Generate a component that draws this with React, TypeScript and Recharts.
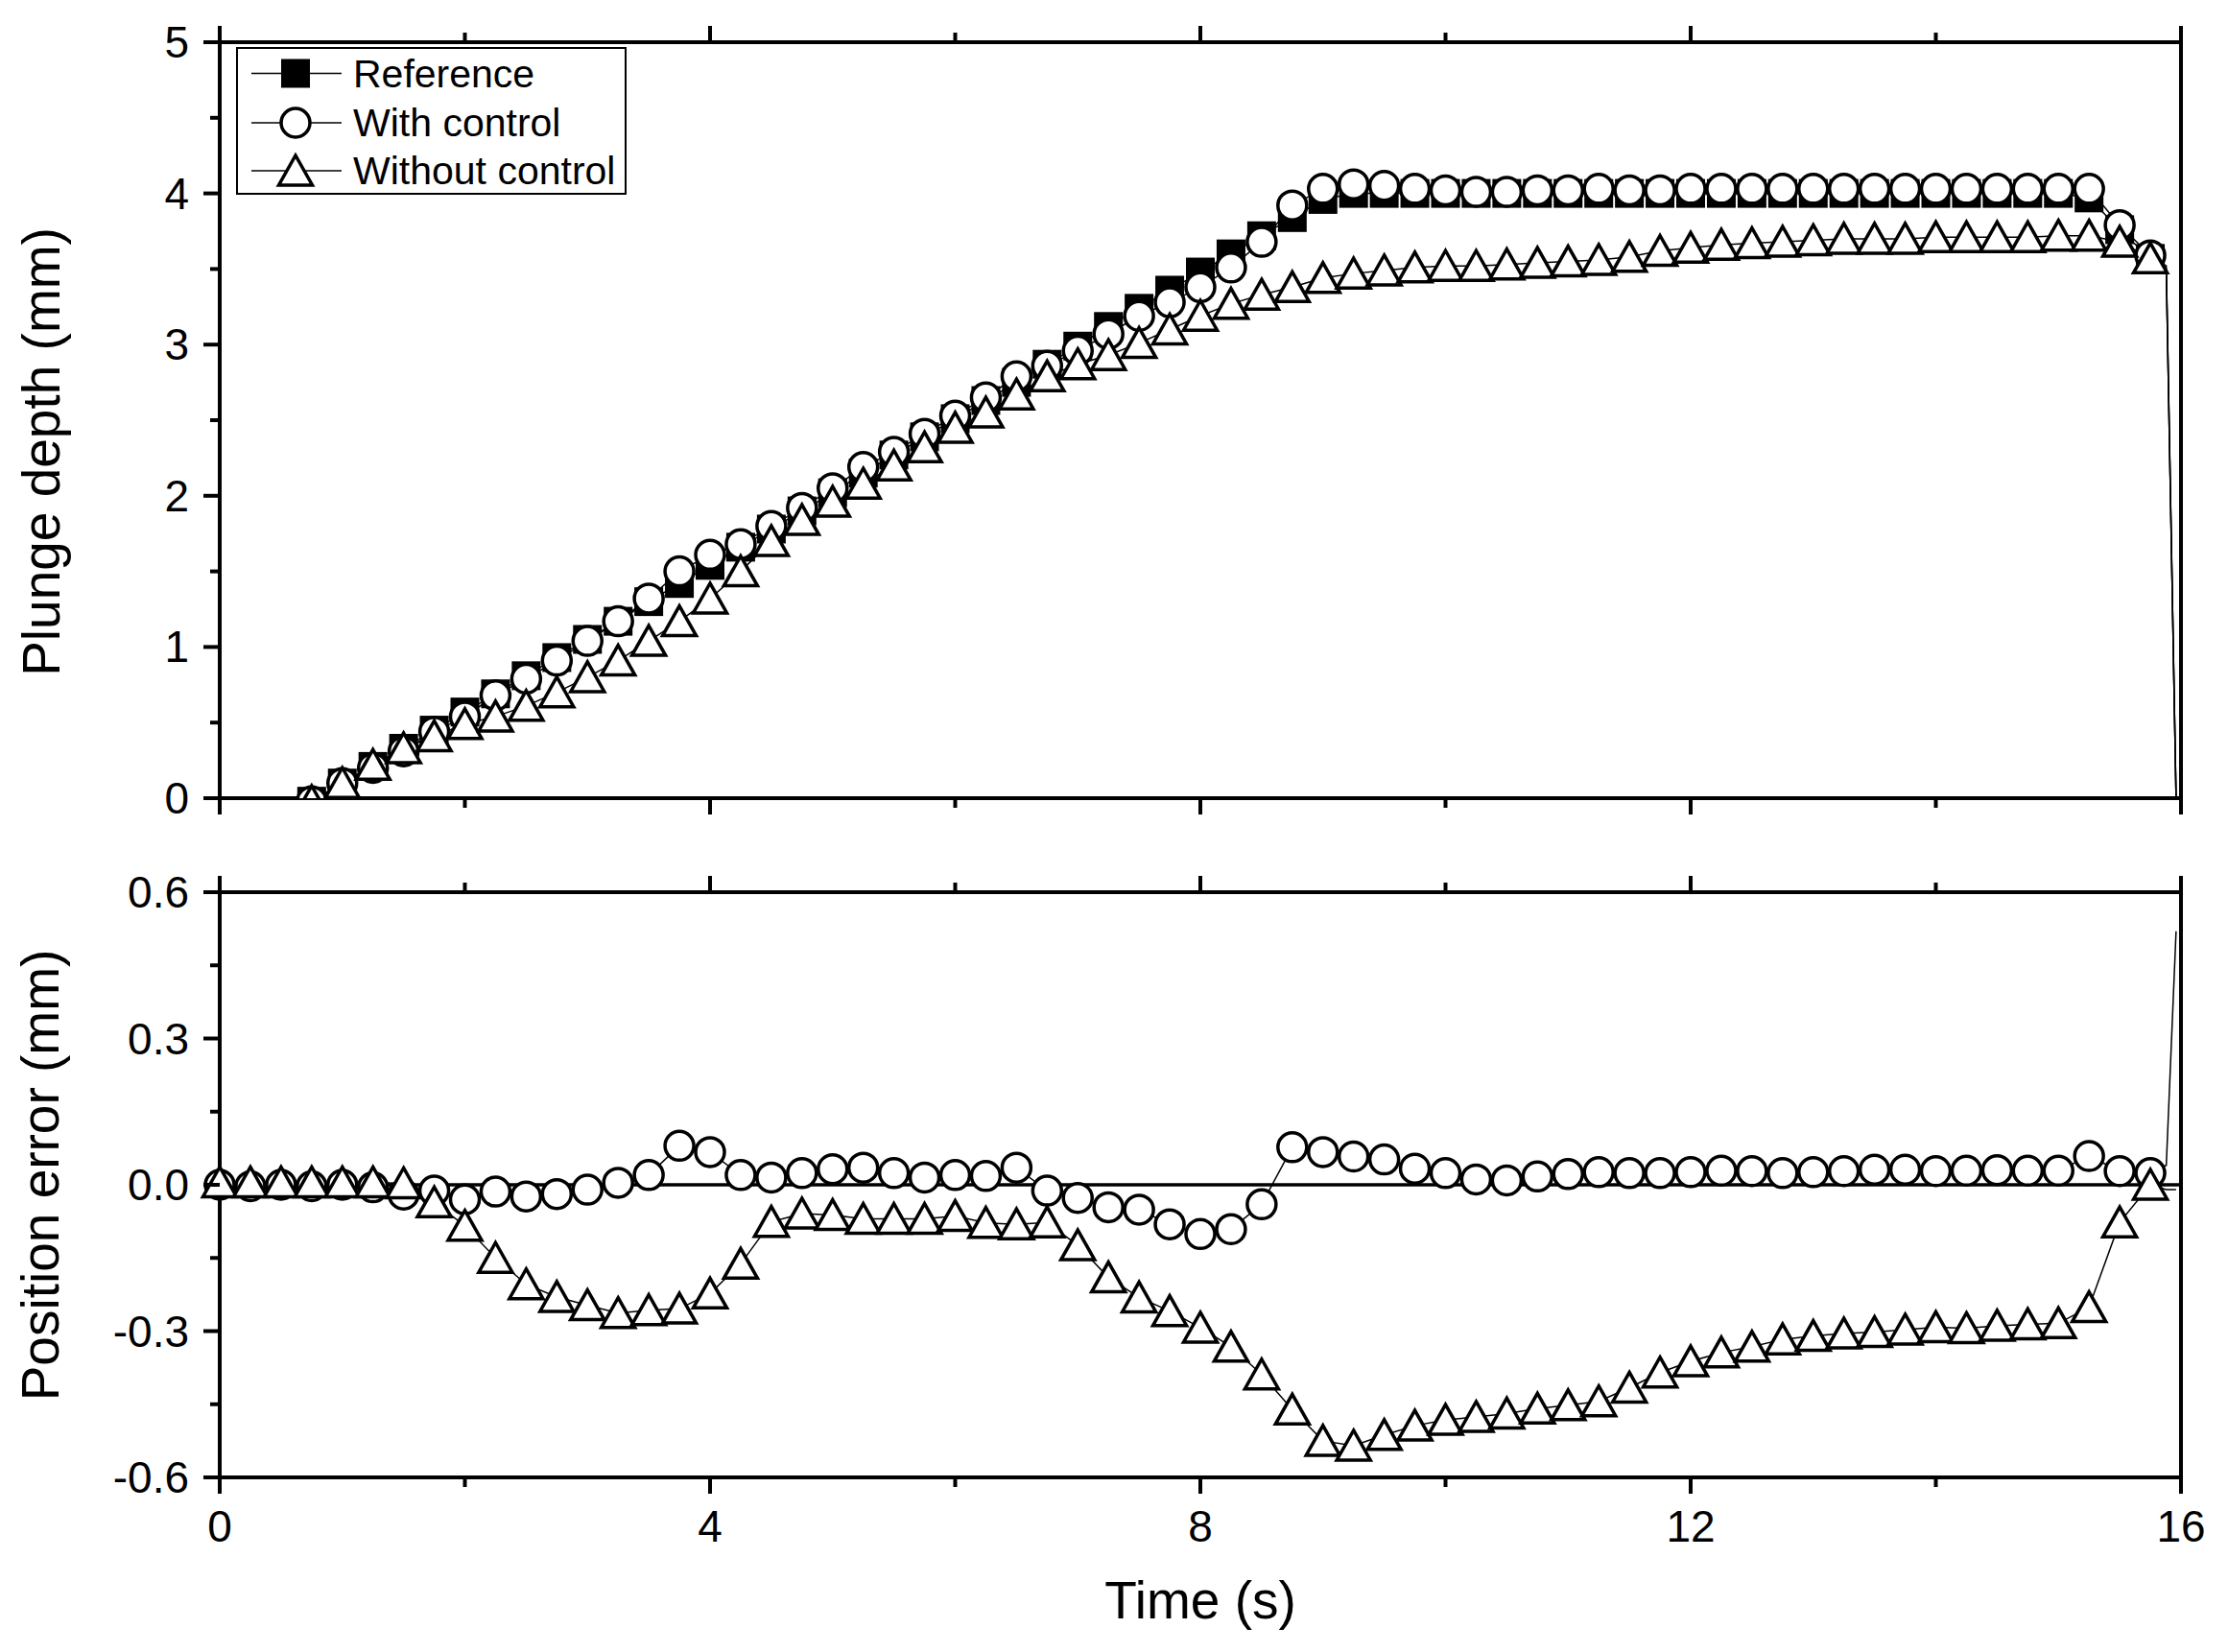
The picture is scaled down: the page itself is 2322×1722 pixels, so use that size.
import React from "react";
import { LineChart, Line, XAxis, YAxis, ReferenceLine } from "recharts";

// sample times (s), one marker every 0.25 s
const TIME = [
  0, 0.25, 0.5, 0.75, 1, 1.25, 1.5, 1.75,
  2, 2.25, 2.5, 2.75, 3, 3.25, 3.5, 3.75,
  4, 4.25, 4.5, 4.75, 5, 5.25, 5.5, 5.75,
  6, 6.25, 6.5, 6.75, 7, 7.25, 7.5, 7.75,
  8, 8.25, 8.5, 8.75, 9, 9.25, 9.5, 9.75,
  10, 10.25, 10.5, 10.75, 11, 11.25, 11.5, 11.75,
  12, 12.25, 12.5, 12.75, 13, 13.25, 13.5, 13.75,
  14, 14.25, 14.5, 14.75, 15, 15.25, 15.5, 15.75,
];
// end of the record, drawn as line only
const TAIL_TIME = [15.88, 15.96];

// plunge depth (mm)
const REF_DEPTH = [
  null, null, null, -0.02, 0.1, 0.21, 0.33, 0.45,
  0.57, 0.69, 0.81, 0.93, 1.05, 1.17, 1.3, 1.42,
  1.54, 1.66, 1.78, 1.9, 2.02, 2.15, 2.27, 2.39,
  2.51, 2.63, 2.75, 2.87, 2.99, 3.12, 3.24, 3.36,
  3.48, 3.6, 3.72, 3.84, 3.96, 4.0, 4.0, 4.0,
  4.0, 4.0, 4.0, 4.0, 4.0, 4.0, 4.0, 4.0,
  4.0, 4.0, 4.0, 4.0, 4.0, 4.0, 4.0, 4.0,
  4.0, 4.0, 4.0, 4.0, 4.0, 3.97, 3.76, 3.57,
];
const WITH_DEPTH = [
  null, null, null, -0.02, 0.1, 0.2, 0.31, 0.44,
  0.54, 0.68, 0.79, 0.91, 1.04, 1.17, 1.32, 1.5,
  1.61, 1.68, 1.8, 1.92, 2.05, 2.19, 2.29, 2.41,
  2.53, 2.65, 2.79, 2.86, 2.96, 3.07, 3.19, 3.28,
  3.38, 3.51, 3.68, 3.92, 4.03, 4.06, 4.05, 4.03,
  4.02, 4.01, 4.01, 4.02, 4.02, 4.03, 4.02, 4.02,
  4.03, 4.03, 4.03, 4.03, 4.03, 4.03, 4.03, 4.03,
  4.03, 4.03, 4.03, 4.03, 4.03, 4.03, 3.79, 3.59,
];
const WITHOUT_DEPTH = [
  null, null, null, -0.02, 0.1, 0.22, 0.33, 0.41,
  0.49, 0.54, 0.61, 0.7, 0.8, 0.91, 1.04, 1.17,
  1.32, 1.5, 1.7, 1.84, 1.96, 2.08, 2.2, 2.32,
  2.45, 2.55, 2.67, 2.79, 2.87, 2.93, 3.01, 3.1,
  3.19, 3.27, 3.33, 3.38, 3.44, 3.47, 3.49, 3.51,
  3.52, 3.52, 3.53, 3.54, 3.55, 3.56, 3.58, 3.62,
  3.64, 3.66, 3.67, 3.68, 3.69, 3.7, 3.7, 3.7,
  3.71, 3.71, 3.71, 3.71, 3.72, 3.72, 3.68, 3.57,
];
const REF_DEPTH_TAIL = [3.5, 0];
const WITH_DEPTH_TAIL = [3.52, 0];
const WITHOUT_DEPTH_TAIL = [3.49, 0];

// position error (mm)
const WITH_ERROR = [
  0.0, -0.003, 0.0, -0.003, 0.0, -0.005, -0.02, -0.012,
  -0.03, -0.014, -0.024, -0.019, -0.01, 0.004, 0.02, 0.08,
  0.067, 0.02, 0.015, 0.024, 0.032, 0.035, 0.024, 0.015,
  0.02, 0.018, 0.035, -0.012, -0.027, -0.046, -0.051, -0.081,
  -0.101, -0.091, -0.04, 0.077, 0.067, 0.058, 0.052, 0.033,
  0.024, 0.011, 0.009, 0.017, 0.022, 0.026, 0.024, 0.024,
  0.026, 0.029, 0.028, 0.024, 0.026, 0.028, 0.031, 0.031,
  0.028, 0.029, 0.03, 0.029, 0.029, 0.059, 0.028, 0.024,
];
const WITHOUT_ERROR = [
  0.005, 0.005, 0.005, 0.005, 0.005, 0.005, 0.003, -0.036,
  -0.084, -0.15, -0.204, -0.23, -0.247, -0.263, -0.257, -0.254,
  -0.223, -0.162, -0.076, -0.059, -0.062, -0.07, -0.07, -0.07,
  -0.064, -0.078, -0.081, -0.077, -0.124, -0.19, -0.231, -0.259,
  -0.293, -0.332, -0.389, -0.461, -0.525, -0.535, -0.513, -0.494,
  -0.482, -0.476, -0.469, -0.459, -0.452, -0.444, -0.416, -0.385,
  -0.362, -0.344, -0.332, -0.317, -0.31, -0.305, -0.302, -0.297,
  -0.292, -0.294, -0.289, -0.286, -0.284, -0.251, -0.077, 0.0,
];
const WITH_ERROR_TAIL = [0.04, 0.52];
const WITHOUT_ERROR_TAIL = [-0.01, -0.01];

const X_TICKS = [0, 2, 4, 6, 8, 10, 12, 14, 16];
const DEPTH_TICKS = [0, 0.5, 1, 1.5, 2, 2.5, 3, 3.5, 4, 4.5, 5];
const ERROR_TICKS = [-0.6, -0.45, -0.3, -0.15, 0, 0.15, 0.3, 0.45, 0.6];

const FONT = "'Liberation Sans', Arial, sans-serif";

const depthRows = [
  ...TIME.map((t, i) => ({ t, ref: REF_DEPTH[i], wc: WITH_DEPTH[i], nc: WITHOUT_DEPTH[i], m: true })),
  ...TAIL_TIME.map((t, i) => ({ t, ref: REF_DEPTH_TAIL[i], wc: WITH_DEPTH_TAIL[i], nc: WITHOUT_DEPTH_TAIL[i], m: false })),
];
const errorRows = [
  ...TIME.map((t, i) => ({ t, wc: WITH_ERROR[i], nc: WITHOUT_ERROR[i], m: true })),
  ...TAIL_TIME.map((t, i) => ({ t, wc: WITH_ERROR_TAIL[i], nc: WITHOUT_ERROR_TAIL[i], m: false })),
];

// markers
const Square = ({ x, y }: { x: number; y: number }) => (
  <rect x={x - 15} y={y - 15} width={30} height={30} fill="#000" />
);
const Ring = ({ x, y }: { x: number; y: number }) => (
  <circle cx={x} cy={y} r={15} fill="#fff" stroke="#000" strokeWidth={3.5} />
);
const Tri = ({ x, y }: { x: number; y: number }) => (
  <path
    d={`M${x},${y - 16} L${x + 17.5},${y + 15} L${x - 17.5},${y + 15} Z`}
    fill="#fff"
    stroke="#000"
    strokeWidth={3.5}
    strokeLinejoin="miter"
  />
);

const dotOf = (Shape: any, tag: string) => (p: any) => {
  const { cx, cy, payload, index } = p;
  if (cx == null || cy == null || !payload || !payload.m || Number.isNaN(cy)) {
    return <g key={`${tag}${index}`} />;
  }
  return <Shape key={`${tag}${index}`} x={cx} y={cy} />;
};

// ticks: major/minor lines drawn outward, labels only on majors
const tickOf = (side: string, isMajor: (v: number) => boolean, label?: (v: number) => string) => (p: any) => {
  const { x, y, payload } = p;
  const v = payload.value;
  const major = isMajor(v);
  const len = major ? 17 : 10;
  let line;
  if (side === "left") line = <line x1={x} y1={y} x2={x - len} y2={y} />;
  else if (side === "right") line = <line x1={x} y1={y} x2={x + len} y2={y} />;
  else if (side === "top") line = <line x1={x} y1={y} x2={x} y2={y - len} />;
  else line = <line x1={x} y1={y} x2={x} y2={y + len} />;
  return (
    <g>
      <g stroke="#000" strokeWidth={4}>{line}</g>
      {major && label && side === "left" && (
        <text x={x - 32} y={y + 16} textAnchor="end" fontSize={46} fontFamily={FONT} fill="#000">
          {label(v)}
        </text>
      )}
      {major && label && side === "bottom" && (
        <text x={x} y={y + 67} textAnchor="middle" fontSize={46} fontFamily={FONT} fill="#000">
          {label(v)}
        </text>
      )}
    </g>
  );
};

const near = (a: number, b: number) => Math.abs(a - b) < 1e-6;
const xMajor = (v: number) => near(v % 4, 0);
const depthMajor = (v: number) => near(v, Math.round(v));
const errorMajor = (v: number) => near(v / 0.3, Math.round(v / 0.3));

const AXIS_LINE = { stroke: "#000", strokeWidth: 4 };

function Frame({ yDomain, yTicks, yMajor, yLabel, xLabels }: any) {
  return [
    <XAxis
      key="xb"
      xAxisId="b"
      dataKey="t"
      type="number"
      domain={[0, 16]}
      ticks={X_TICKS}
      height={xLabels ? 182 : 48}
      axisLine={AXIS_LINE}
      tickLine={false}
      tickSize={0}
      tickMargin={0}
      interval={0}
      tick={tickOf("bottom", xMajor, xLabels ? (v) => String(v) : undefined)}
    />,
    <XAxis
      key="xt"
      xAxisId="t"
      orientation="top"
      dataKey="t"
      type="number"
      domain={[0, 16]}
      ticks={X_TICKS}
      height={xLabels ? 50 : 44}
      axisLine={AXIS_LINE}
      tickLine={false}
      tickSize={0}
      tickMargin={0}
      interval={0}
      tick={tickOf("top", xMajor)}
    />,
    <YAxis
      key="yl"
      yAxisId="l"
      type="number"
      domain={yDomain}
      ticks={yTicks}
      width={229}
      allowDataOverflow
      axisLine={AXIS_LINE}
      tickLine={false}
      tickSize={0}
      tickMargin={0}
      interval={0}
      tick={tickOf("left", yMajor, yLabel)}
    />,
    <YAxis
      key="yr"
      yAxisId="r"
      orientation="right"
      type="number"
      domain={yDomain}
      ticks={yTicks}
      width={49}
      axisLine={AXIS_LINE}
      tickLine={false}
      tickSize={0}
      tickMargin={0}
      interval={0}
      tick={tickOf("right", yMajor)}
    />,
  ];
}

function series(rows: any[], withRef: boolean) {
  const common = {
    xAxisId: "b",
    yAxisId: "l",
    type: "linear" as const,
    stroke: "#000",
    strokeWidth: 1.5,
    isAnimationActive: false,
    activeDot: false,
  };
  const out = [];
  if (withRef) out.push(<Line key="ref" {...common} dataKey="ref" name="Reference" dot={dotOf(Square, "s")} />);
  out.push(<Line key="wc" {...common} dataKey="wc" name="With control" dot={dotOf(Ring, "c")} />);
  out.push(<Line key="nc" {...common} dataKey="nc" name="Without control" dot={dotOf(Tri, "t")} />);
  return out;
}

function LegendBox() {
  const rows = [
    { y: 27.5, name: "Reference", Shape: Square },
    { y: 79, name: "With control", Shape: Ring },
    { y: 129, name: "Without control", Shape: Tri },
  ];
  return (
    <svg width={410} height={156} style={{ position: "absolute", left: 246, top: 49 }}>
      <rect x={1} y={1} width={405} height={152} fill="#fff" stroke="#000" strokeWidth={2} />
      {rows.map(({ y, name, Shape }) => (
        <g key={name}>
          <line x1={16} y1={y} x2={110} y2={y} stroke="#000" strokeWidth={1.5} />
          <Shape x={62} y={y} />
          <text x={122} y={y + 14} fontSize={41} fontFamily={FONT} fill="#000">
            {name}
          </text>
        </g>
      ))}
    </svg>
  );
}

export default function App() {
  return (
    <div style={{ position: "absolute", left: 0, top: 0, width: 2322, height: 1722, background: "#fff" }}>
      <div style={{ position: "absolute", left: 0, top: 0 }}>
        <LineChart width={2322} height={880} data={depthRows} margin={{ top: 0, right: 0, bottom: 0, left: 0 }}>
          {Frame({ yDomain: [0, 5], yTicks: DEPTH_TICKS, yMajor: depthMajor, yLabel: (v: number) => String(v), xLabels: false })}
          {series(depthRows, true)}
        </LineChart>
        <svg width={120} height={880} style={{ position: "absolute", left: 0, top: 0 }}>
          <text
            transform="translate(62,471) rotate(-90)"
            textAnchor="middle"
            fontSize={55}
            fontFamily={FONT}
            fill="#000"
          >
            Plunge depth (mm)
          </text>
        </svg>
        <LegendBox />
      </div>
      <div style={{ position: "absolute", left: 0, top: 880 }}>
        <LineChart width={2322} height={842} data={errorRows} margin={{ top: 0, right: 0, bottom: 0, left: 0 }}>
          {Frame({ yDomain: [-0.6, 0.6], yTicks: ERROR_TICKS, yMajor: errorMajor, yLabel: (v: number) => v.toFixed(1), xLabels: true })}
          <ReferenceLine xAxisId="b" yAxisId="l" y={0} stroke="#000" strokeWidth={3.5} />
          {series(errorRows, false)}
        </LineChart>
        <svg width={2322} height={842} style={{ position: "absolute", left: 0, top: 0, pointerEvents: "none" }}>
          <text
            transform="translate(61,345) rotate(-90)"
            textAnchor="middle"
            fontSize={55}
            fontFamily={FONT}
            fill="#000"
          >
            Position error (mm)
          </text>
          <text x={1251} y={807} textAnchor="middle" fontSize={55} fontFamily={FONT} fill="#000">
            Time (s)
          </text>
        </svg>
      </div>
    </div>
  );
}
